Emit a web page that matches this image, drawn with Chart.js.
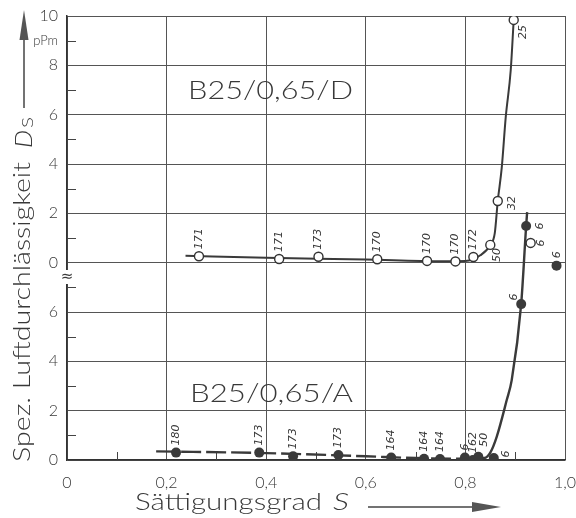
<!DOCTYPE html>
<html>
<head>
<meta charset="utf-8">
<script src="https://cdn.jsdelivr.net/npm/chart.js@4"></script>
<style>
  html, body { margin: 0; background: #fff; }
  #wrap { width: 576px; height: 518px; }
</style>
</head>
<body>
<div id="wrap"><canvas id="myChart"></canvas></div>
<script>
// B25/0,65/D  (offene Kreise, oberer Bereich, D_s in pPm)
var dS   = [0.265, 0.426, 0.505, 0.623, 0.723, 0.780, 0.816, 0.850, 0.865, 0.897, 0.931];
var dVal = [0.26, 0.15, 0.24, 0.14, 0.07, 0.05, 0.23, 0.72, 2.50, 9.84, 0.80];
var dLab = ['171', '171', '173', '170', '170', '170', '172', '50', '32', '25', '6'];
// Ausgleichskurve D
var dCurveS = [0.238, 0.40, 0.60, 0.75, 0.80, 0.83, 0.85, 0.859, 0.865, 0.873, 0.881, 0.891, 0.897];
var dCurveV = [0.28, 0.20, 0.13, 0.06, 0.07, 0.30, 0.72, 1.20, 2.50, 3.85, 5.90, 7.80, 9.84];

// B25/0,65/A  (volle Punkte, unterer Bereich)
var aS   = [0.219, 0.386, 0.454, 0.545, 0.651, 0.717, 0.749, 0.799, 0.815, 0.826, 0.857, 0.912, 0.922, 0.983];
var aVal = [0.30, 0.30, 0.15, 0.20, 0.10, 0.05, 0.04, 0.10, 0.00, 0.13, 0.08, 6.32, 9.49, 7.88];
var aLab = ['180', '173', '173', '173', '164', '164', '164', '6', '162', '50', '6', '6', '6', '6'];
// Ausgleichskurve A
var aCurveS = [0.179, 0.40, 0.60, 0.70, 0.80, 0.838, 0.850, 0.863, 0.883, 0.893, 0.912, 0.922, 0.924];
var aCurveV = [0.35, 0.28, 0.15, 0.08, 0.05, 0.08, 0.30, 0.95, 2.43, 3.24, 6.32, 9.49, 10.05];

// y axis is split: 0..8 lower part (A), 8..18 upper part (D shifted by 8)
var yTickLabels = ['0', '', '2', '', '4', '', '6', '', '0', '', '2', '', '4', '', '6', '', '8', 'pPm', '10'];
var xTickLabels = ['0', '', '0,2', '', '0,4', '', '0,6', '', '0,8', '', '1,0'];

var SHIFT = 8;
// label placement: 'u' = above the point, otherwise [dx, dy]
var dLabPos = ['u', 'u', 'u', 'u', 'u', 'u', 'u', [7, 10], [14, 2], [9, 12], [11, 0]];
var aLabPos = ['u', 'u', 'u', 'u', 'u', 'u', 'u', 'u', 'u', [6, -17], [12, -4], [-7, -7], [14, 0], [1, -11]];

var FONT = 'Lato, "DejaVu Sans", sans-serif';
var INK = '#383838';

function pts(xs, ys, off) {
    return xs.map(function (s, i) { return { x: s, y: ys[i] + off }; });
}

function fitText(ctx, text, x, y, w, font, rot) {
    ctx.font = font;
    var m = ctx.measureText(text).width;
    ctx.save();
    ctx.translate(x, y);
    if (rot) ctx.rotate(rot);
    ctx.scale(w / m, 1);
    ctx.textAlign = 'left';
    ctx.textBaseline = 'alphabetic';
    ctx.fillText(text, 0, 0);
    ctx.restore();
}

const minorTicks = {
    id: 'minorTicks',
    beforeDatasetsDraw(chart) {
        const ctx = chart.ctx, a = chart.chartArea, x = chart.scales.x, y = chart.scales.y;
        ctx.save();
        ctx.strokeStyle = '#444';
        ctx.lineWidth = 1;
        ctx.beginPath();
        for (let v = 1; v < 18; v += 2) {
            const py = Math.round(y.getPixelForValue(v)) + 0.5;
            ctx.moveTo(a.left, py); ctx.lineTo(a.left + 9, py);
        }
        for (let k = 1; k < 10; k += 2) {
            const px = Math.round(x.getPixelForValue(k / 10)) + 0.5;
            ctx.moveTo(px, a.bottom); ctx.lineTo(px, a.bottom - 8);
        }
        ctx.stroke();
        ctx.restore();
    }
};

const pointLabels = {
    id: 'pointLabels',
    afterDatasetsDraw(chart) {
        const ctx = chart.ctx;
        ctx.save();
        ctx.font = 'italic 11px "DejaVu Sans", sans-serif';
        ctx.fillStyle = INK;
        ctx.textBaseline = 'middle';
        [[0, dLab, dLabPos], [1, aLab, aLabPos]].forEach(function (set) {
            const meta = chart.getDatasetMeta(set[0]);
            meta.data.forEach(function (pt, i) {
                const p = set[2][i];
                ctx.save();
                if (p === 'u') {
                    ctx.translate(pt.x, pt.y - 7);
                    ctx.textAlign = 'left';
                } else {
                    ctx.translate(pt.x + p[0], pt.y + p[1]);
                    ctx.textAlign = 'center';
                }
                ctx.rotate(-Math.PI / 2);
                ctx.fillText(set[1][i], 0, 0);
                ctx.restore();
            });
        });
        ctx.restore();
    }
};

const annotations = {
    id: 'annotations',
    afterDraw(chart) {
        const ctx = chart.ctx, a = chart.chartArea;
        ctx.save();
        ctx.strokeStyle = '#444';

        // axis break
        ctx.fillStyle = '#fff';
        ctx.fillRect(a.left - 4, 270, 8, 14);
        ctx.fillStyle = INK;
        ctx.font = '15px "DejaVu Sans", sans-serif';
        ctx.textAlign = 'center';
        ctx.textBaseline = 'middle';
        ctx.fillText('\u2248', a.left, 277);

        // specimen names
        fitText(ctx, 'B25/0,65/D', 188, 99, 165, '300 26px ' + FONT);
        fitText(ctx, 'B25/0,65/A', 190, 402, 163, '300 26px ' + FONT);

        // y title
        fitText(ctx, 'Spez. Luftdurchl\u00e4ssigkeit', 30, 462, 300, '300 24px ' + FONT, -Math.PI / 2);
        fitText(ctx, 'D', 32, 148, 18, 'italic 300 24px ' + FONT, -Math.PI / 2);
        fitText(ctx, 'S', 33, 128, 11, '300 16px ' + FONT, -Math.PI / 2);
        ctx.lineWidth = 1.5;
        ctx.beginPath();
        ctx.moveTo(24, 108); ctx.lineTo(24, 36);
        ctx.stroke();
        ctx.fillStyle = '#555';
        ctx.beginPath();
        ctx.moveTo(24, 10); ctx.lineTo(19.5, 40); ctx.lineTo(28.5, 40); ctx.closePath();
        ctx.fill();

        // x title
        ctx.fillStyle = INK;
        fitText(ctx, 'S\u00e4ttigungsgrad', 135, 510, 187, '300 24px ' + FONT);
        fitText(ctx, 'S', 333, 510, 16, 'italic 300 24px ' + FONT);
        ctx.beginPath();
        ctx.moveTo(368, 507); ctx.lineTo(476, 507);
        ctx.stroke();
        ctx.fillStyle = '#555';
        ctx.beginPath();
        ctx.moveTo(501, 507); ctx.lineTo(472, 502); ctx.lineTo(472, 512); ctx.closePath();
        ctx.fill();
        ctx.restore();
    }
};

const data = {
    datasets: [
        {
            label: 'B25/0,65/D',
            data: pts(dS, dVal, SHIFT),
            pointRadius: 4.5,
            pointBackgroundColor: '#fff',
            pointBorderColor: '#333',
            pointBorderWidth: 1.4,
            showLine: false,
            order: 1
        },
        {
            label: 'B25/0,65/A',
            data: pts(aS, aVal, 0),
            pointRadius: 5,
            pointBackgroundColor: '#3a3a3a',
            pointBorderColor: '#3a3a3a',
            pointBorderWidth: 0,
            showLine: false,
            order: 1
        },
        {
            label: 'Kurve D',
            data: pts(dCurveS, dCurveV, SHIFT),
            showLine: true,
            borderColor: '#3a3a3a',
            borderWidth: 2,
            pointRadius: 0,
            cubicInterpolationMode: 'monotone',
            order: 2
        },
        {
            label: 'Kurve A',
            data: pts(aCurveS, aCurveV, 0),
            showLine: true,
            borderColor: '#3a3a3a',
            borderWidth: 2.4,
            pointRadius: 0,
            cubicInterpolationMode: 'monotone',
            segment: {
                borderDash: function (c) { return c.p0.parsed.x < 0.8 ? [20, 5] : undefined; }
            },
            order: 2
        }
    ]
};

const config = {
    type: 'scatter',
    data: data,
    options: {
        responsive: true,
        maintainAspectRatio: false,
        animation: false,
        layout: { padding: { left: 0, right: 11, top: 16, bottom: 0 } },
        plugins: { legend: { display: false }, tooltip: { enabled: false } },
        scales: {
            x: {
                type: 'linear',
                min: 0,
                max: 1,
                afterFit: function (s) { s.height = 58; s.paddingLeft = 0; s.paddingRight = 0; },
                ticks: {
                    stepSize: 0.1,
                    autoSkip: false,
                    maxRotation: 0,
                    padding: 13,
                    color: INK,
                    font: { family: FONT, size: 16, weight: 300 },
                    callback: function (v) { return xTickLabels[Math.round(v * 10)]; }
                },
                grid: {
                    drawTicks: false,
                    lineWidth: 1,
                    color: function (c) { return Math.round(c.tick.value * 10) % 2 ? 'rgba(0,0,0,0)' : '#555'; }
                },
                border: { color: '#333', width: 1.5 }
            },
            y: {
                type: 'linear',
                min: 0,
                max: 18,
                afterFit: function (s) { s.width = 67; s.paddingTop = 0; s.paddingBottom = 0; },
                ticks: {
                    stepSize: 1,
                    autoSkip: false,
                    padding: 9,
                    color: INK,
                    font: function (c) {
                        return { family: FONT, size: c.tick && c.tick.value === 17 ? 13 : 16, weight: 300 };
                    },
                    callback: function (v) { return yTickLabels[Math.round(v)]; }
                },
                grid: {
                    drawTicks: false,
                    lineWidth: 1,
                    color: function (c) { return Math.round(c.tick.value) % 2 ? 'rgba(0,0,0,0)' : '#555'; }
                },
                border: { color: '#333', width: 1.5 }
            }
        }
    },
    plugins: [minorTicks, pointLabels, annotations]
};

const myChart = new Chart(document.getElementById('myChart'), config);
</script>
</body>
</html>
